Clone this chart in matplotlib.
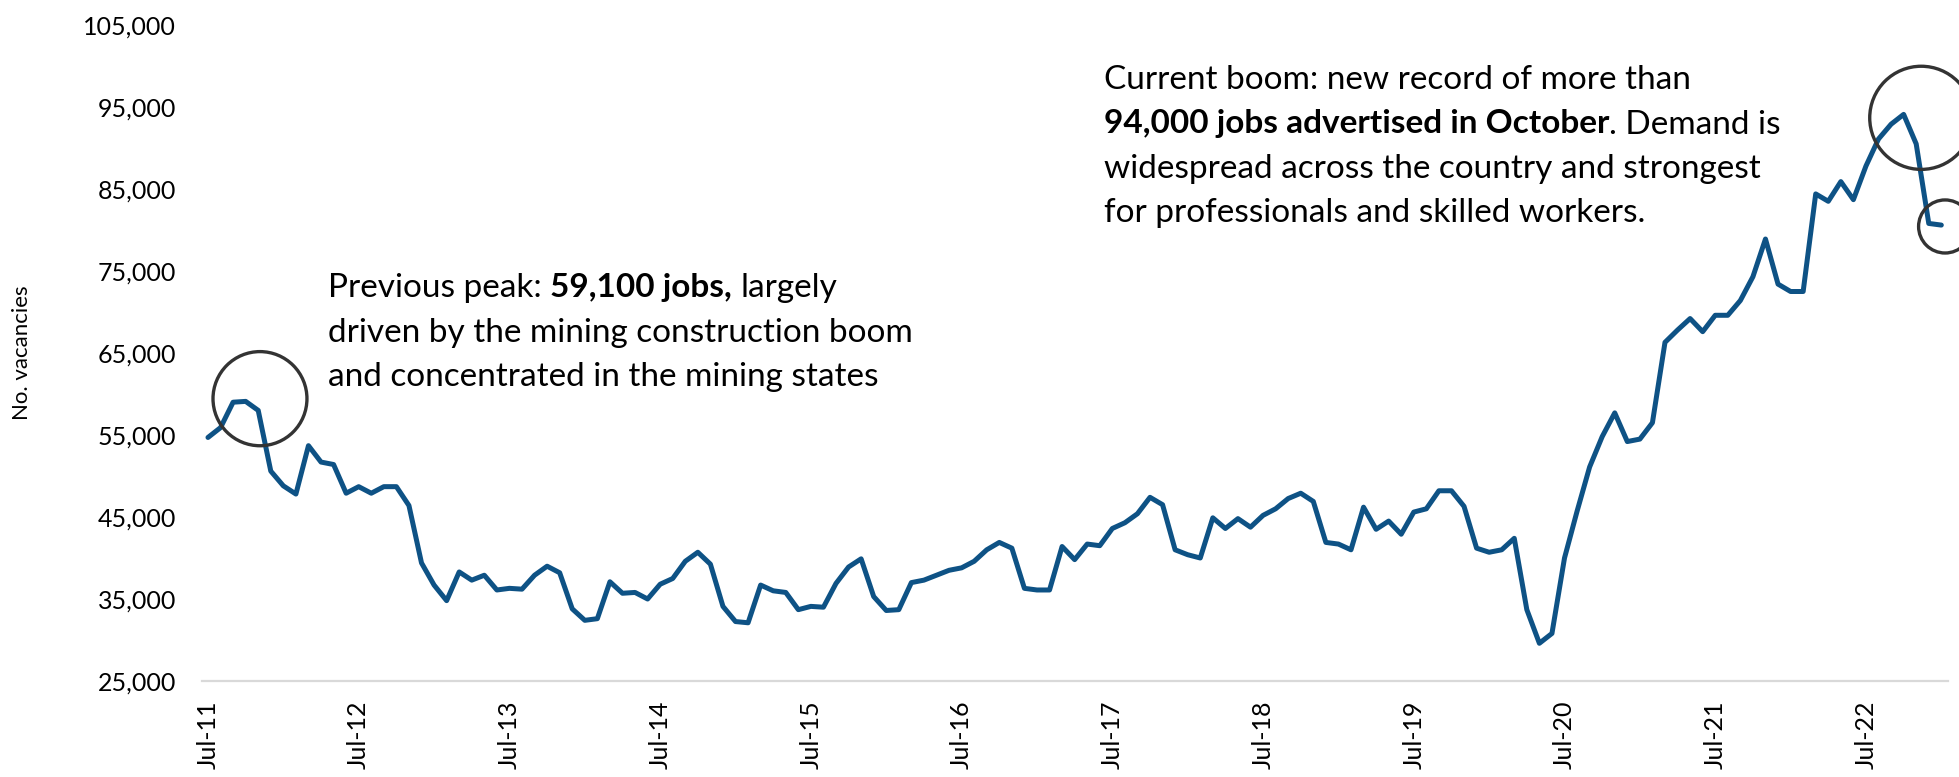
import numpy as np
import pandas as pd
import matplotlib
matplotlib.use("Agg")
import matplotlib.pyplot as plt
from matplotlib.patches import Ellipse
from matplotlib.ticker import FuncFormatter

# monthly job vacancies, Jul-2011 .. Jan-2023
start_month = "2011-07"
vacancies = [
    54700, 55900, 59000, 59100, 58000, 50600,                      # 2011 H2
    48800, 47800, 53700, 51700, 51400, 47900,                      # 2012 H1
    48700, 47900, 48700, 48700, 46400, 39400,
    36700, 34800, 38300, 37300, 37900, 36100,                      # 2013
    36300, 36200, 37900, 39000, 38200, 33800,
    32400, 32600, 37100, 35700, 35800, 35000,                      # 2014
    36800, 37500, 39600, 40700, 39250, 34100,
    32250, 32100, 36700, 36000, 35800, 33700,                      # 2015
    34100, 34000, 36900, 38900, 39900, 35300,
    33600, 33700, 37000, 37300, 37900, 38500,                      # 2016
    38800, 39600, 41000, 41900, 41200, 36300,
    36100, 36100, 41400, 39800, 41700, 41500,                      # 2017
    43600, 44300, 45400, 47400, 46500, 41000,
    40400, 40000, 44900, 43600, 44800, 43760,                      # 2018
    45200, 46000, 47250, 47900, 46900, 41900,
    41700, 41000, 46200, 43500, 44500, 42900,                      # 2019
    45600, 46000, 48200, 48200, 46300, 41200,
    40700, 41000, 42400, 33700, 29600, 30800,                      # 2020
    40000, 45700, 51100, 54800, 57700, 54200,
    54500, 56500, 66300, 67800, 69200, 67600,                      # 2021
    69600, 69600, 71400, 74300, 78900, 73400,
    72500, 72500, 84400, 83500, 85900, 83700,                      # 2022
    87800, 91100, 92900, 94100, 90500, 80800,
    80600,                                                         # 2023
]
y_ticks = list(range(25000, 105001, 10000))

note_peak = [
    [("Previous peak: ", "normal"), ("59,100 jobs,", "bold"), (" largely", "normal")],
    [("driven by the mining construction boom", "normal")],
    [("and concentrated in the mining states", "normal")],
]
note_boom = [
    [("Current boom: new record of more than", "normal")],
    [("94,000 jobs advertised in October", "bold"), (". Demand is", "normal")],
    [("widespread across the country and strongest", "normal")],
    [("for professionals and skilled workers.", "normal")],
]

months = pd.period_range(start_month, periods=len(vacancies), freq="M")
x = np.arange(len(vacancies))
tick_pos = [i for i, m in enumerate(months) if m.month == 7]
tick_labels = [months[i].strftime("%b-%y") for i in tick_pos]

FONT = "Lato"
LINE = "#0E5285"
W, H, DPI = 1959, 777, 100
NOTE_FS = 24
GAP = 44.5

plt.rcParams["font.family"] = [FONT, "DejaVu Sans"]

fig = plt.figure(figsize=(W / DPI, H / DPI), dpi=DPI)
ax = fig.add_axes([201.7 / W, 1 - 681 / H, (1947.6 - 201.7) / W, (681 - 25) / H])

ax.plot(x, vacancies, color=LINE, lw=3.6, solid_joinstyle="round", solid_capstyle="round")

ax.set_xlim(-0.5, len(vacancies) - 0.5)
ax.set_ylim(y_ticks[0], y_ticks[-1])
ax.set_yticks(y_ticks)
ax.yaxis.set_major_formatter(FuncFormatter(lambda v, p: f"{int(v):,}"))
ax.set_xticks(tick_pos)
ax.set_xticklabels(tick_labels, rotation=90)
ax.tick_params(axis="both", length=0, labelsize=18, colors="black")
ax.tick_params(axis="y", pad=18.5)
ax.tick_params(axis="x", pad=14)
for s in ["top", "right", "left"]:
    ax.spines[s].set_visible(False)
ax.spines["bottom"].set_color("#d9d9d9")
ax.spines["bottom"].set_linewidth(1.6)

fig.text(22 / W, 1 - 353 / H, "No. vacancies", rotation=90, fontsize=16,
         ha="center", va="center")

# circles round the two peaks and the latest reading
for cx, cy, w, h in [(4.14, 59430, 7.48, 11480),
                     (136.4, 93680, 8.2, 12580),
                     (138.3, 80430, 4.22, 6470)]:
    ax.add_patch(Ellipse((cx, cy), w, h, fill=False, ec="#333333", lw=2.4,
                         clip_on=False, zorder=3))

renderer = fig.canvas.get_renderer()


def width_px(s, weight):
    t = fig.text(0, 0, s, fontsize=NOTE_FS, fontweight=weight)
    w = t.get_window_extent(renderer).width
    t.remove()
    return w


space_px = width_px("n n", "normal") - width_px("nn", "normal")


def rich_text(x0, base0, lines):
    for k, parts in enumerate(lines):
        xp = x0
        yp = H - (base0 + k * GAP)
        for s, wt in parts:
            core = s.strip(" ")
            xp += (len(s) - len(s.lstrip(" "))) * space_px
            t = fig.text(xp / W, yp / H, core, fontsize=NOTE_FS, fontweight=wt,
                         ha="left", va="baseline")
            xp += t.get_window_extent(renderer).width
            xp += (len(s) - len(s.rstrip(" "))) * space_px


rich_text(328, 297, note_peak)
rich_text(1104, 89, note_boom)

fig.savefig("out.png", dpi=DPI)
